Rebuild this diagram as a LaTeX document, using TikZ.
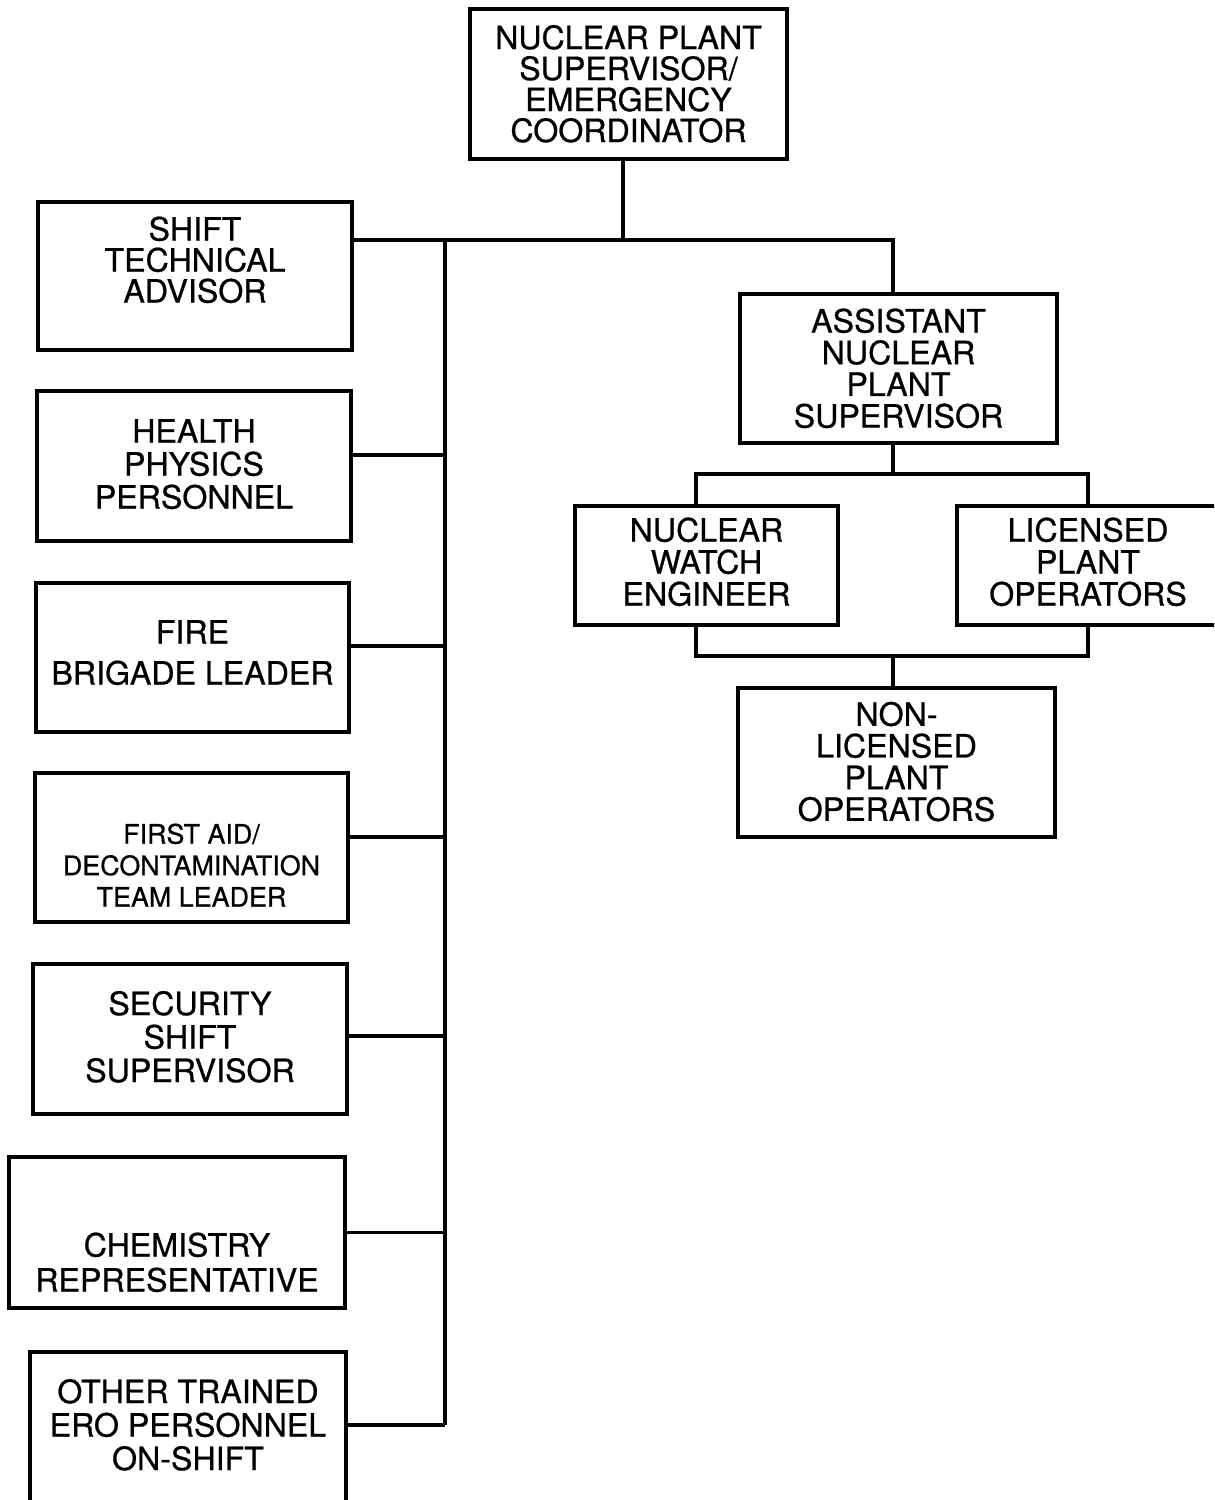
\documentclass[tikz,border=0pt]{standalone}
\usepackage{fontspec}
\setmainfont{TeX Gyre Heros}[FakeBold=0.7]
\newdimen\pxu \pxu=0.02cm
% #1 lines, #2 line pitch (px), #3 upward shift of text (px), #4 lines
\newcommand\tx[4]{\raisebox{\dimexpr #3\pxu + #2\pxu*(#1-1)/2 - 0.36em\relax}[0pt][0pt]{\vtop{\baselineskip=#2\pxu\lineskiplimit=-100pt\def\\{\cr}\halign{\hfil##\hfil\cr #4\crcr}}}}
\tikzset{
  orgbox/.style 2 args={draw, line width=1.8pt, inner sep=0pt,
    minimum width=#1*0.02cm, minimum height=#2*0.02cm,
    font=\fontsize{18.3}{21}\selectfont},
  small/.style={font=\fontsize{15.3}{18}\selectfont},
  link/.style={line width=1.8pt}
}
\begin{document}
\begin{tikzpicture}[x=0.02cm, y=-0.02cm]
\path[use as bounding box] (0,0) rectangle (1214,1500);
\clip (0,0) rectangle (1214,1500);
\fill[white] (0,0) rectangle (1214,1500);

% top
\node[orgbox={317}{150}] (top) at (628.5,84) {\tx{4}{31}{0}{NUCLEAR PLANT\\SUPERVISOR/\\EMERGENCY\\COORDINATOR}};

% left column
\node[orgbox={314}{148}] (sta) at (195,276) {\tx{3}{31}{16}{SHIFT\\TECHNICAL\\ADVISOR}};
\node[orgbox={314}{150}] (hpp) at (194,466) {\tx{3}{33}{2}{HEALTH\\PHYSICS\\PERSONNEL}};
\node[orgbox={313}{149}] (fire) at (192.5,657.5) {\tx{2}{41}{5}{FIRE\\BRIGADE LEADER}};
\node[orgbox={313}{149}, small] (aid) at (191.5,847.5) {\tx{3}{31.5}{-18}{FIRST AID/\\DECONTAMINATION\\TEAM LEADER}};
\node[orgbox={314}{150}] (sec) at (190,1039) {\tx{3}{33.5}{2}{SECURITY\\SHIFT\\SUPERVISOR}};
\node[orgbox={336}{151}] (chem) at (177,1232.5) {\tx{2}{35}{-30}{CHEMISTRY\\REPRESENTATIVE}};
\node[orgbox={316}{150}] (other) at (188,1427) {\tx{3}{33.5}{2}{OTHER TRAINED\\ERO PERSONNEL\\ON-SHIFT}};

% right column
\node[orgbox={317}{149}] (asnps) at (898.5,368.5) {\tx{4}{31.7}{0}{ASSISTANT\\NUCLEAR\\PLANT\\SUPERVISOR}};
\node[orgbox={263}{119}] (nwe) at (706.5,565.5) {\tx{3}{32}{3.5}{NUCLEAR\\WATCH\\ENGINEER}};
\node[orgbox={262}{119}] (lpo) at (1088,565.5) {\tx{3}{32}{3.5}{LICENSED\\PLANT\\OPERATORS}};
\node[orgbox={317}{149}] (nlpo) at (896.5,762.5) {\tx{4}{31.7}{0.75}{NON-\\LICENSED\\PLANT\\OPERATORS}};

% connectors
\coordinate (j0) at (623,240);
\coordinate (sp) at (445,240);
\coordinate (ra) at (893,240);
\draw[link] (top.south -| j0) -- (j0);
\draw[link] (j0 -| sta.east) -- (ra) -- (ra |- asnps.north);
\draw[link] (sp) -- ([yshift=0.04cm]other.east -| sp);
\draw[link] ([yshift=0.22cm]hpp.east) -- ([yshift=0.22cm]hpp.east -| sp);
\draw[link] ([yshift=0.23cm]fire.east) -- ([yshift=0.23cm]fire.east -| sp);
\draw[link] ([yshift=0.21cm]aid.east) -- ([yshift=0.21cm]aid.east -| sp);
\draw[link] ([yshift=0.06cm]sec.east) -- ([yshift=0.06cm]sec.east -| sp);
\draw[link] (chem.east) -- (chem.east -| sp);
\draw[link] ([yshift=0.04cm]other.east) -- ([yshift=0.04cm]other.east -| sp);

\coordinate (r1) at (893,474);
\coordinate (r2) at (893,656);
\draw[link] (asnps.south -| r1) -- (r1);
\draw[link] ([xshift=-0.21cm]nwe.north) |- (r1 -| lpo.north) -- (lpo.north);
\draw[link] ([xshift=-0.21cm]nwe.south) |- (r2 -| lpo.south) -- (lpo.south);
\draw[link] (r2) -- (r2 |- nlpo.north);
\end{tikzpicture}
\end{document}
